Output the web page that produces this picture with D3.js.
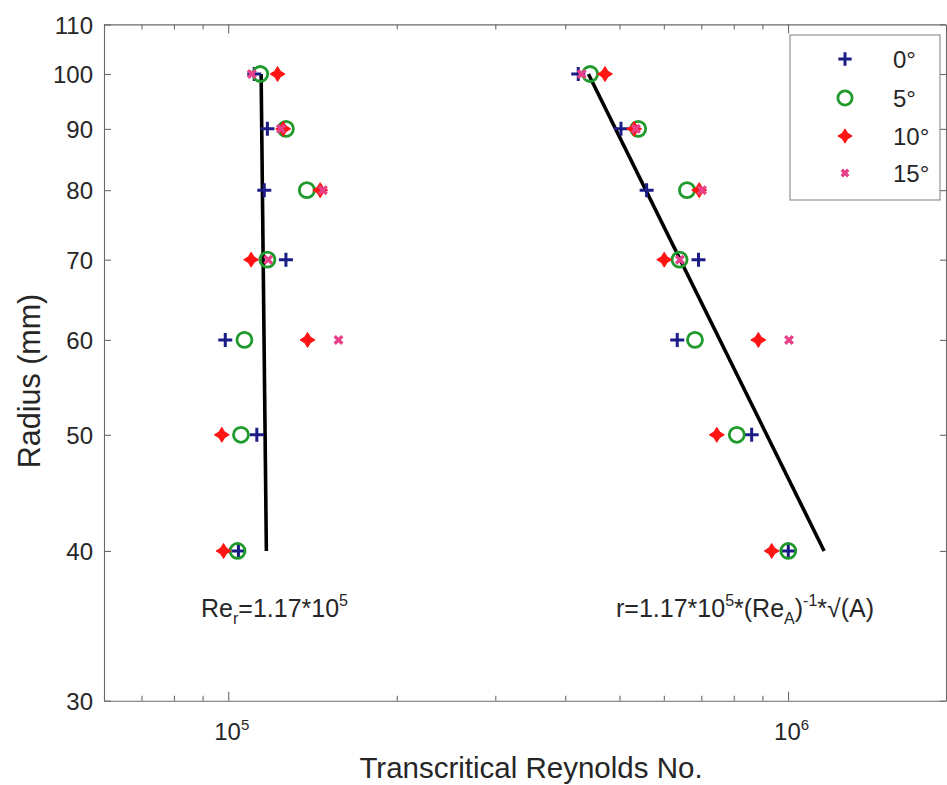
<!DOCTYPE html>
<html>
<head>
<meta charset="utf-8">
<script src="https://cdn.jsdelivr.net/npm/d3@7"></script>
<style>
  html, body { margin: 0; padding: 0; background: #fff; }
  svg { display: block; font-family: "Liberation Sans", Arial, Helvetica, sans-serif; }
</style>
</head>
<body>
<svg id="chart" width="947" height="785"></svg>
<script>
// ---------- data ----------
const seriesNames = ["0°", "5°", "10°", "15°"];
const radii = [100, 90, 80, 70, 60, 50, 40];

// lower group (near Re_r = 1.17e5)
const re0Low  = [1.113e5, 1.175e5, 1.160e5, 1.268e5, 0.988e5, 1.125e5, 1.043e5];
const re5Low  = [1.141e5, 1.268e5, 1.382e5, 1.175e5, 1.069e5, 1.054e5, 1.039e5];
const re10Low = [1.225e5, 1.254e5, 1.460e5, 1.099e5, 1.386e5, 0.974e5, 0.981e5];
const re15Low = [1.102e5, 1.242e5, 1.476e5, 1.179e5, 1.574e5, null, null];

// upper group (based on Re_A)
const re0High  = [4.22e5, 5.03e5, 5.59e5, 6.92e5, 6.34e5, 8.61e5, 1.001e6];
const re5High  = [4.43e5, 5.40e5, 6.60e5, 6.40e5, 6.82e5, 8.10e5, 1.001e6];
const re10High = [4.71e5, 5.31e5, 6.94e5, 6.01e5, 8.85e5, 7.46e5, 9.35e5];
const re15High = [4.28e5, 5.35e5, 7.02e5, 6.41e5, 1.004e6, null, null];

// fitted lines
const fitRadius = [100, 40];
const fitLow  = [1.145e5, 1.17e5];
const fitHigh = [4.40e5, 1.16e6];

// axis ticks
const yTicks = [30, 40, 50, 60, 70, 80, 90, 100, 110];
const xMajorTicks = [1e5, 1e6];
const xMajorExp = ["5", "6"];

// ---------- layout ----------
const svg = d3.select("#chart");
const L = 104, R = 946, T = 24.4, B = 700.7;

const x = d3.scaleLog().domain([6e4, 1.915e6]).range([L, R]);
const y = d3.scaleLog().domain([30, 110]).range([B, T]);

const axisColor = "#6a6a6a";
const textColor = "#262626";

const colors = { plus: "#1c1c86", circle: "#1f9a2c", diamond: "#ff1414", cross: "#e8418a" };

// minor ticks from the scale itself
const allTicks = x.ticks().filter(v => v >= 6e4 && v <= 1.915e6);
const minorTicks = allTicks.filter(v => !xMajorTicks.includes(v));

function styleAxis(g) {
  g.selectAll("path, line").attr("stroke", axisColor).attr("stroke-width", 1.1);
  g.selectAll("text").attr("fill", textColor);
}

// bottom
svg.append("g").attr("transform", `translate(0,${B})`)
  .call(d3.axisBottom(x).tickValues(minorTicks).tickSize(-5).tickSizeOuter(0).tickFormat(""))
  .call(styleAxis);
svg.append("g").attr("transform", `translate(0,${B})`)
  .call(d3.axisBottom(x).tickValues(xMajorTicks).tickSize(-9).tickSizeOuter(0).tickFormat(""))
  .call(g => g.select(".domain").remove())
  .call(styleAxis);
// top
svg.append("g").attr("transform", `translate(0,${T})`)
  .call(d3.axisTop(x).tickValues(minorTicks).tickSize(-5).tickSizeOuter(0).tickFormat(""))
  .call(styleAxis);
svg.append("g").attr("transform", `translate(0,${T})`)
  .call(d3.axisTop(x).tickValues(xMajorTicks).tickSize(-9).tickSizeOuter(0).tickFormat(""))
  .call(g => g.select(".domain").remove())
  .call(styleAxis);
// left
svg.append("g").attr("transform", `translate(${L},0)`)
  .call(d3.axisLeft(y).tickValues(yTicks).tickSize(-7).tickSizeOuter(0).tickPadding(11).tickFormat(d3.format("d")))
  .call(g => g.selectAll("text").attr("font-size", 24).attr("dy", "0.36em"))
  .call(styleAxis);
// right
svg.append("g").attr("transform", `translate(${R},0)`)
  .call(d3.axisRight(y).tickValues(yTicks).tickSize(-6).tickSizeOuter(0).tickFormat(""))
  .call(styleAxis);

// x tick labels with superscripts
xMajorTicks.forEach((v, i) => {
  const t = svg.append("text")
    .attr("x", x(v) - 14).attr("y", 740)
    .attr("font-size", 24).attr("fill", textColor);
  t.append("tspan").text("10");
  t.append("tspan").attr("font-size", 15).attr("dy", -10).text(xMajorExp[i]);
});

// axis titles
svg.append("text")
  .attr("x", 531).attr("y", 778)
  .attr("text-anchor", "middle").attr("font-size", 29.5).attr("fill", textColor)
  .text("Transcritical Reynolds No.");
svg.append("text")
  .attr("transform", `translate(40,${381}) rotate(-90)`)
  .attr("text-anchor", "middle").attr("font-size", 30.5).attr("fill", textColor)
  .text("Radius (mm)");

// ---------- fit lines ----------
const line = d3.line().x(d => x(d[0])).y(d => y(d[1]));
[fitLow, fitHigh].forEach(arr => {
  svg.append("path")
    .datum(arr.map((v, i) => [v, fitRadius[i]]))
    .attr("d", line)
    .attr("fill", "none").attr("stroke", "#000").attr("stroke-width", 3.6);
});

// ---------- markers ----------
function diamondPath(r) {
  const k = r * 0.38;
  return `M0,${-r}L${k},${-k}L${r},0L${k},${k}L0,${r}L${-k},${k}L${-r},0L${-k},${-k}Z`;
}
function drawMarker(g, type, cx, cy, scale) {
  const s = scale || 1;
  if (type === "plus") {
    const h = 7 * s;
    g.append("path").attr("d", `M${cx - h},${cy}H${cx + h}M${cx},${cy - h}V${cy + h}`)
      .attr("stroke", colors.plus).attr("stroke-width", 3).attr("fill", "none");
  } else if (type === "circle") {
    g.append("circle").attr("cx", cx).attr("cy", cy).attr("r", 7.5 * s)
      .attr("fill", "none").attr("stroke", colors.circle).attr("stroke-width", 2.8);
  } else if (type === "diamond") {
    g.append("path").attr("transform", `translate(${cx},${cy})`).attr("d", diamondPath(7.5 * s))
      .attr("fill", colors.diamond).attr("stroke", colors.diamond).attr("stroke-width", 1);
  } else if (type === "cross") {
    const h = 3.8 * s;
    g.append("path").attr("d", `M${cx - h},${cy - h}L${cx + h},${cy + h}M${cx - h},${cy + h}L${cx + h},${cy - h}`)
      .attr("stroke", colors.cross).attr("stroke-width", 3.4).attr("fill", "none");
  }
}

const seriesDefs = [
  { type: "plus",    low: re0Low,  high: re0High },
  { type: "circle",  low: re5Low,  high: re5High },
  { type: "diamond", low: re10Low, high: re10High },
  { type: "cross",   low: re15Low, high: re15High }
];

const marks = svg.append("g");
seriesDefs.forEach(s => {
  [s.low, s.high].forEach(arr => {
    arr.forEach((v, i) => {
      if (v == null) return;
      drawMarker(marks, s.type, x(v), y(radii[i]));
    });
  });
});

// ---------- annotations ----------
const a1 = svg.append("text").attr("x", 201).attr("y", 617).attr("font-size", 25).attr("fill", textColor);
a1.append("tspan").text("Re");
a1.append("tspan").attr("font-size", 16).attr("dy", 7).text("r");
a1.append("tspan").attr("dy", -7).text("=1.17*10");
a1.append("tspan").attr("font-size", 16).attr("dy", -11).text("5");

const a2 = svg.append("text").attr("x", 616).attr("y", 617).attr("font-size", 25).attr("fill", textColor);
a2.append("tspan").text("r=1.17*10");
a2.append("tspan").attr("font-size", 16).attr("dy", -11).text("5");
a2.append("tspan").attr("dy", 11).text("*(Re");
a2.append("tspan").attr("font-size", 16).attr("dy", 7).text("A");
a2.append("tspan").attr("dy", -7).text(")");
a2.append("tspan").attr("font-size", 16).attr("dy", -11).text("-1");
a2.append("tspan").attr("dy", 11).text("*√(A)");

// ---------- legend ----------
const lg = svg.append("g");
lg.append("rect").attr("x", 790).attr("y", 35).attr("width", 150).attr("height", 165)
  .attr("fill", "#fff").attr("stroke", "#8a8a8a").attr("stroke-width", 1.1);
const legendRows = [59, 98, 136, 173];
seriesDefs.forEach((s, i) => {
  drawMarker(lg, s.type, 845, legendRows[i], s.type === "cross" ? 0.85 : 0.95);
  lg.append("text").attr("x", 893).attr("y", legendRows[i]).attr("dy", "0.36em")
    .attr("font-size", 24).attr("fill", textColor).text(seriesNames[i]);
});
</script>
</body>
</html>
